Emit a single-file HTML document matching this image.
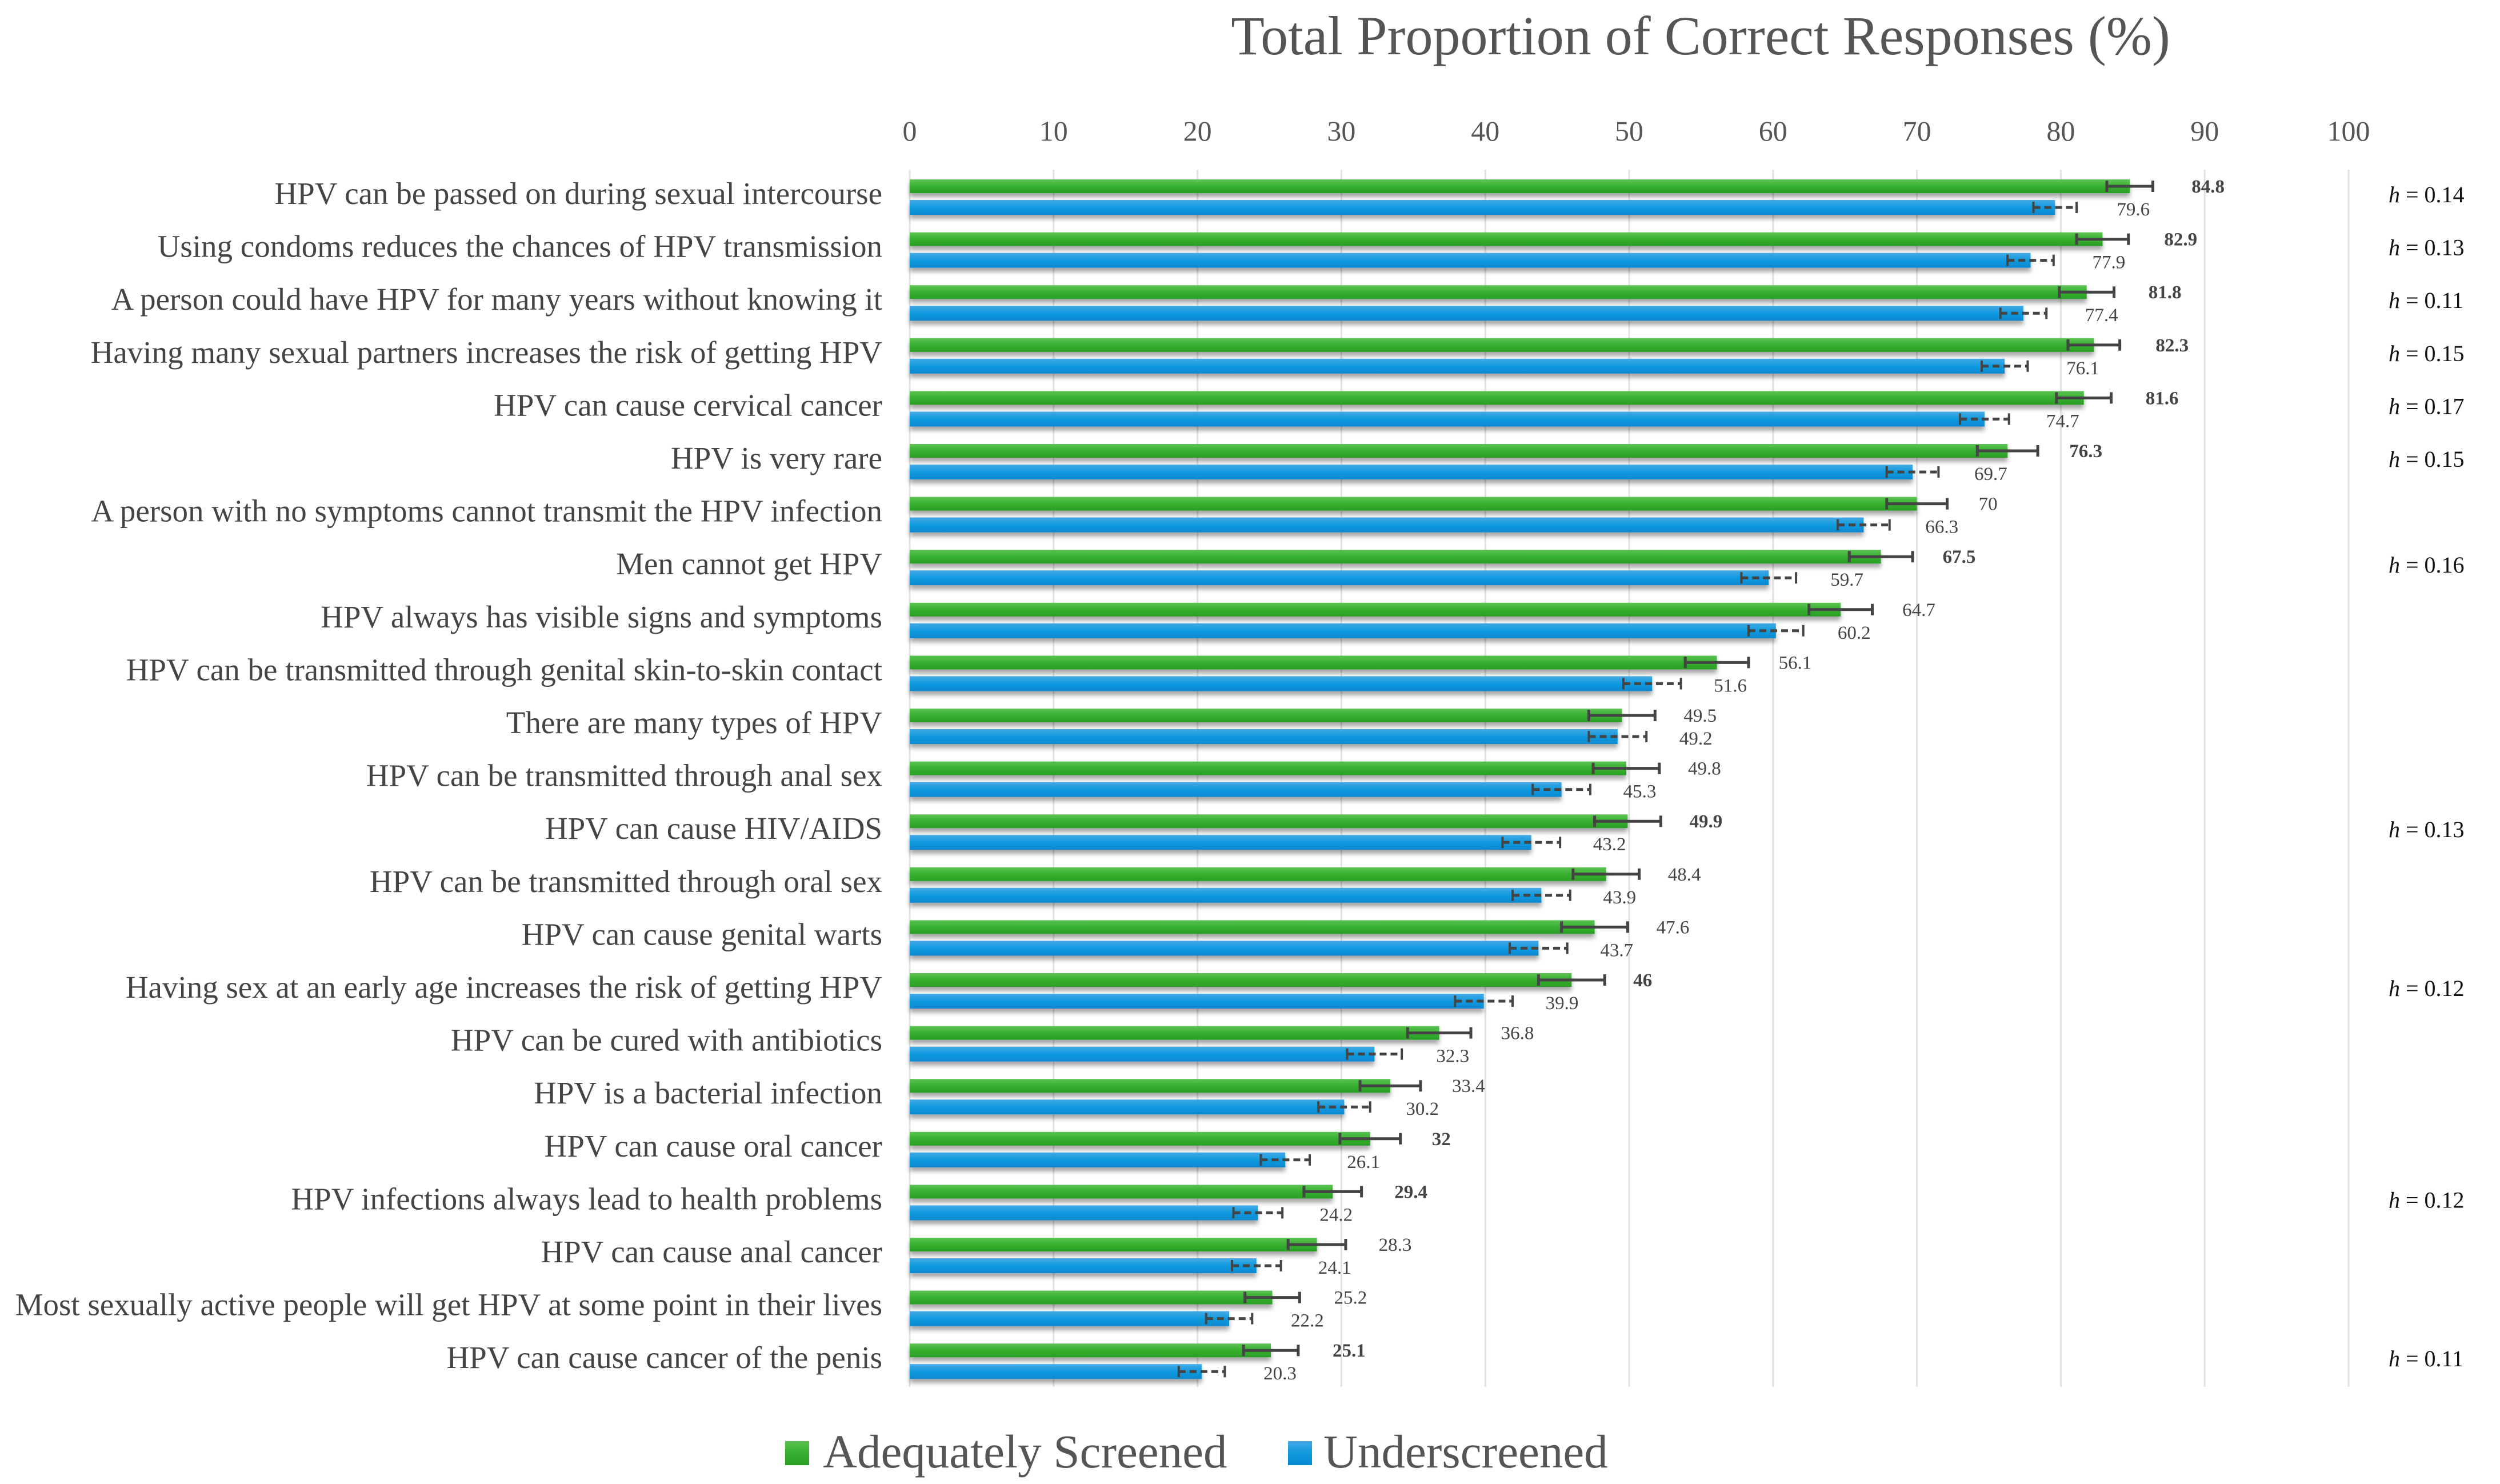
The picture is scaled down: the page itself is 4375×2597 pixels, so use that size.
<!DOCTYPE html>
<html><head><meta charset="utf-8"><style>
html,body{margin:0;padding:0;background:#fff;}
svg{display:block;}
text{font-family:"Liberation Serif",serif;}
</style></head><body>
<svg id="chart" width="4375" height="2597" viewBox="0 0 4375 2597" xmlns="http://www.w3.org/2000/svg">
<defs>
<linearGradient id="gG" x1="0" y1="0" x2="0" y2="1"><stop offset="0" stop-color="#5cc253"/><stop offset="0.5" stop-color="#36b02f"/><stop offset="1" stop-color="#2a9e25"/></linearGradient>
<linearGradient id="gB" x1="0" y1="0" x2="0" y2="1"><stop offset="0" stop-color="#44a9e4"/><stop offset="0.5" stop-color="#0f9ade"/><stop offset="1" stop-color="#0788d0"/></linearGradient>
<filter id="sh" x="-5%" y="-50%" width="110%" height="250%"><feDropShadow dx="0" dy="7" stdDeviation="4" flood-color="#000" flood-opacity="0.35"/></filter>
</defs>
<text x="2976" y="95" font-size="96" fill="#555" text-anchor="middle">Total Proportion of Correct Responses (%)</text>
<g id="grid"></g>
<g id="xticks"></g>
<g id="bars"></g>
<g id="cats"></g>
<g id="hs"></g>
<g>
<rect x="1374" y="2522" width="42" height="42" fill="url(#gG)"/>
<text x="1440" y="2568" font-size="83" fill="#555">Adequately Screened</text>
<rect x="2254" y="2522" width="42" height="42" fill="url(#gB)"/>
<text x="2316" y="2568" font-size="83" fill="#555">Underscreened</text>
</g>
</svg>
<script>
const categories = [
"HPV can be passed on during sexual intercourse",
"Using condoms reduces the chances of HPV transmission",
"A person could have HPV for many years without knowing it",
"Having many sexual partners increases the risk of getting HPV",
"HPV can cause cervical cancer",
"HPV is very rare",
"A person with no symptoms cannot transmit the HPV infection",
"Men cannot get HPV",
"HPV always has visible signs and symptoms",
"HPV can be transmitted through genital skin-to-skin contact",
"There are many types of HPV",
"HPV can be transmitted through anal sex",
"HPV can cause HIV/AIDS",
"HPV can be transmitted through oral sex",
"HPV can cause genital warts",
"Having sex at an early age increases the risk of getting HPV",
"HPV can be cured with antibiotics",
"HPV is a bacterial infection",
"HPV can cause oral cancer",
"HPV infections always lead to health problems",
"HPV can cause anal cancer",
"Most sexually active people will get HPV at some point in their lives",
"HPV can cause cancer of the penis"];
const adequate = [84.8,82.9,81.8,82.3,81.6,76.3,70,67.5,64.7,56.1,49.5,49.8,49.9,48.4,47.6,46,36.8,33.4,32,29.4,28.3,25.2,25.1];
const under = [79.6,77.9,77.4,76.1,74.7,69.7,66.3,59.7,60.2,51.6,49.2,45.3,43.2,43.9,43.7,39.9,32.3,30.2,26.1,24.2,24.1,22.2,20.3];
const adequateErr = [1.6,1.8,1.9,1.8,1.9,2.1,2.1,2.2,2.2,2.2,2.3,2.3,2.3,2.3,2.3,2.3,2.2,2.1,2.1,2.0,2.0,1.9,1.9];
const underErr = [1.5,1.6,1.6,1.6,1.7,1.8,1.8,1.9,1.9,2.0,2.0,2.0,2.0,2.0,2.0,2.0,1.9,1.8,1.7,1.7,1.7,1.6,1.6];
const boldAdequate = [1,1,1,1,1,1,0,1,0,0,0,0,1,0,0,1,0,0,1,1,0,0,1];
const effectRows = [0,1,2,3,4,5,7,12,15,19,22];
const effectLabels = ["0.14","0.13","0.11","0.15","0.17","0.15","0.16","0.13","0.12","0.12","0.11"];
const xTicks = [0,10,20,30,40,50,60,70,80,90,100];

const NS="http://www.w3.org/2000/svg";
const X0=1592, X1=4110, PITCH=92.6, GTOP=314, BTOP=350, GH=24, BH=26;
const xs=v=>X0+(X1-X0)*v/100;
const rowY=i=>GTOP+PITCH*i;
function mk(tag,attrs,parent){const e=document.createElementNS(NS,tag);for(const k in attrs)e.setAttribute(k,attrs[k]);parent.appendChild(e);return e;}
const grid=document.getElementById('grid'),xt=document.getElementById('xticks'),bars=document.getElementById('bars'),cats=document.getElementById('cats'),hs=document.getElementById('hs');
xTicks.forEach(t=>{
  const l=mk('line',{x1:xs(t),x2:xs(t),y1:297,y2:2427,stroke:'#e2e2e2','stroke-width':3},grid);
  
  
  const tx=mk('text',{x:xs(t),y:246,'font-size':50,fill:'#555','text-anchor':'middle'},xt);
  
  
  tx.textContent=t;
});
categories.forEach((c,i)=>{
  const y=rowY(i);
  const lab=mk('text',{x:1544,y:y+43,'font-size':55,fill:'#444','text-anchor':'end'},cats);
  
  
  lab.textContent=c;
  const g=mk('rect',{x:X0,y:y,width:xs(adequate[i])-X0,height:GH,fill:'url(#gG)',filter:'url(#sh)'},bars);
  
  
  const gc=y+GH/2;
  const e1=mk('path',{d:`M${xs(adequate[i]-adequateErr[i])} ${gc}H${xs(adequate[i]+adequateErr[i])}M${xs(adequate[i]-adequateErr[i])} ${gc-10}V${gc+10}M${xs(adequate[i]+adequateErr[i])} ${gc-10}V${gc+10}`,stroke:'#444','stroke-width':5,fill:'none'},bars);
  
  
  const gv=mk('text',{x:xs(adequate[i])+108,y:gc+11,'font-size':33,fill:'#444','font-weight':boldAdequate[i]?'bold':'normal'},bars);
  
  
  gv.textContent=adequate[i];
  const by=BTOP+PITCH*i;
  const b=mk('rect',{x:X0,y:by,width:xs(under[i])-X0,height:BH,fill:'url(#gB)',filter:'url(#sh)'},bars);
  
  
  const bc=by+BH/2;
  const e2=mk('path',{d:`M${xs(under[i]-underErr[i])} ${bc}H${xs(under[i]+underErr[i])}`,stroke:'#444','stroke-width':5,'stroke-dasharray':'12 7',fill:'none'},bars);
  
  
  const e3=mk('path',{d:`M${xs(under[i]-underErr[i])} ${bc-10}V${bc+10}M${xs(under[i]+underErr[i])} ${bc-10}V${bc+10}`,stroke:'#444','stroke-width':4,fill:'none'},bars);
  
  
  const bv=mk('text',{x:xs(under[i])+108,y:bc+14,'font-size':33,fill:'#444'},bars);
  
  
  bv.textContent=under[i];
});
effectRows.forEach((r,k)=>{
  const t=mk('text',{x:4180,y:rowY(r)+40,'font-size':40,fill:'#111'},hs);
  
  
  const it=mk('tspan',{'font-style':'italic'},t);
  it.textContent='h';
  const rest=mk('tspan',{},t);
  rest.textContent=' = '+effectLabels[k];
});
</script>
</body></html>
